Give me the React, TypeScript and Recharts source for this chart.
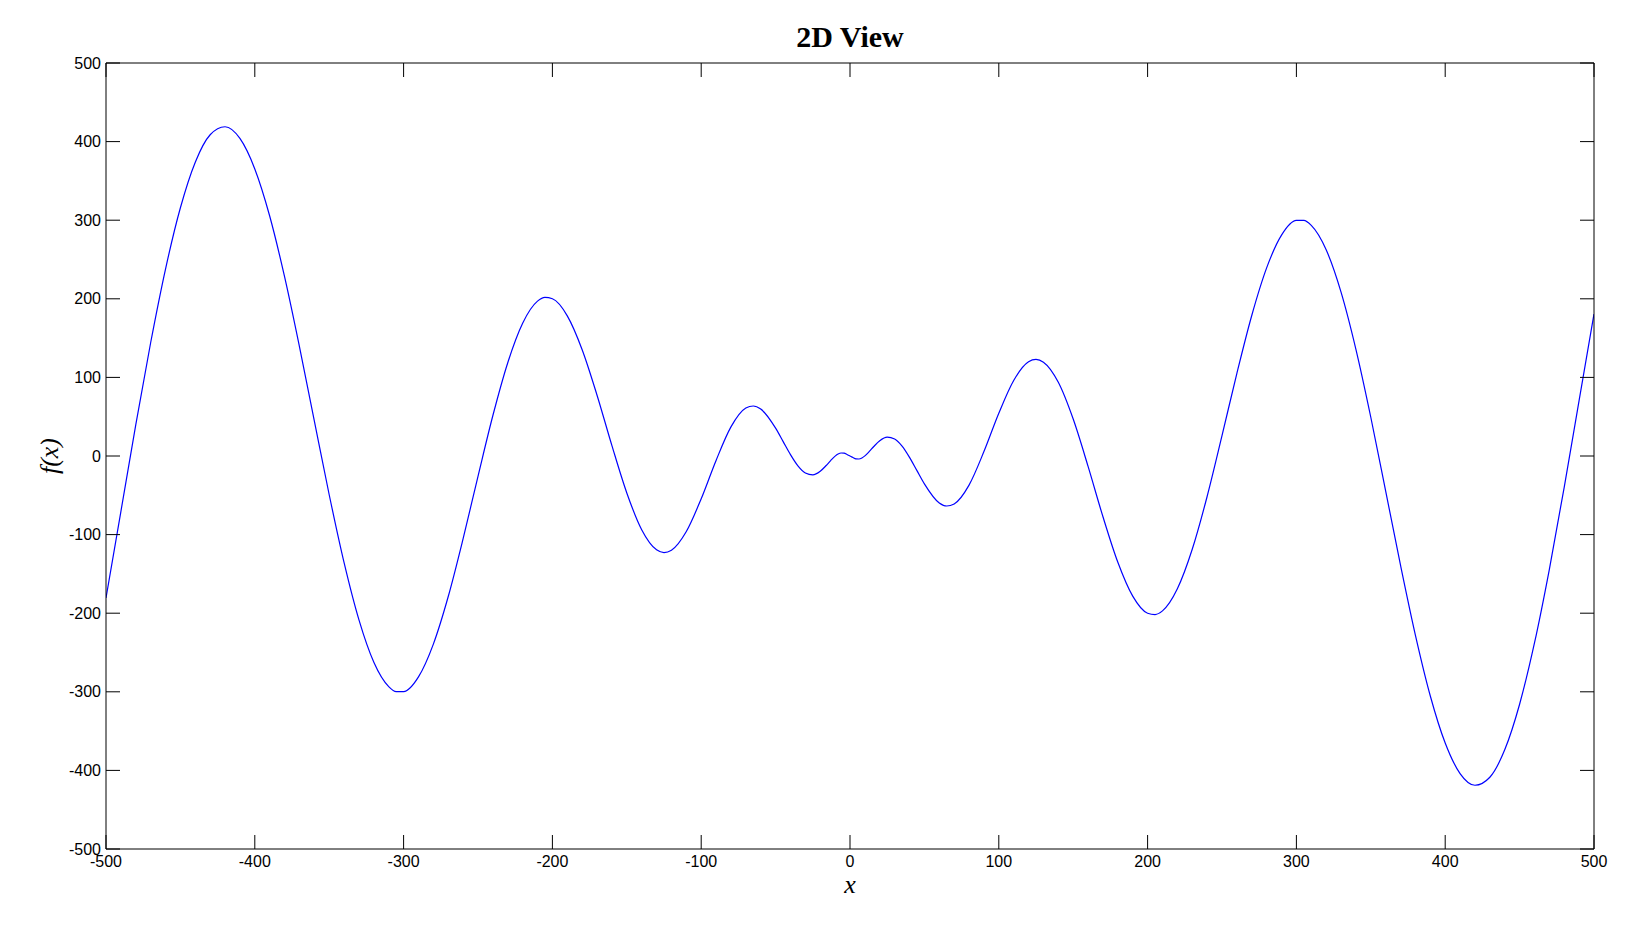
import { LineChart, Line, XAxis, YAxis } from 'recharts'

// x positions (denser near 0 where the wiggle is)
const xValues = [
  -500, -490, -480, -470, -460, -450, -440, -430, -420, -410,
  -400, -390, -380, -370, -360, -350, -340, -330, -320, -310,
  -305, -300, -290, -280, -270, -260, -250, -240, -230, -220,
  -210, -205, -200, -190, -180, -170, -160, -150, -140, -130,
  -125, -120, -110, -100, -90, -80, -70, -65, -60, -50,
  -45, -40, -35, -30, -25, -20, -16, -13, -10, -8,
  -6, -4, -2, 0, 2, 4, 6, 8, 10, 13,
  16, 20, 25, 30, 35, 40, 45, 50, 60, 65,
  70, 80, 90, 100, 110, 120, 125, 130, 140, 150,
  160, 170, 180, 190, 200, 205, 210, 220, 230, 240,
  250, 260, 270, 280, 290, 300, 305, 310, 320, 330,
  340, 350, 360, 370, 380, 390, 400, 410, 420, 430,
  440, 450, 460, 470, 480, 490, 500,
]

// f(x) values
const fValues = [
  -180.6, -70.7, 39.5, 144.1, 237.9, 315.8, 373.8, 408.7, 418.9, 404.0,
  365.2, 305.3, 228.1, 139.2, 44.6, -49.3, -135.7, -208.5, -262.4, -293.4,
  -299.8, -299.7, -281.0, -239.3, -178.8, -105.2, -25.8, 51.5, 118.7, 168.9,
  197.0, 201.7, 200.0, 178.3, 135.2, 77.3, 13.2, -47.0, -93.8, -119.4,
  -122.9, -119.9, -96.1, -54.4, -5.6, 37.0, 61.0, 63.6, 59.7, 35.4,
  18.6, 1.7, -12.6, -21.7, -24.0, -19.4, -12.1, -5.8, -0.2, 2.5,
  3.8, 3.6, 2.0, 0, -2.0, -3.6, -3.8, -2.5, 0.2, 5.8,
  12.1, 19.4, 24.0, 21.7, 12.6, -1.7, -18.6, -35.4, -59.7, -63.6,
  -61.0, -37.0, 5.6, 54.4, 96.1, 119.9, 122.9, 119.4, 93.8, 47.0,
  -13.2, -77.3, -135.2, -178.3, -200.0, -201.7, -197.0, -168.9, -118.7, -51.5,
  25.8, 105.2, 178.8, 239.3, 281.0, 299.7, 299.8, 293.4, 262.4, 208.5,
  135.7, 49.3, -44.6, -139.2, -228.1, -305.3, -365.2, -404.0, -418.9, -408.7,
  -373.8, -315.8, -237.9, -144.1, -39.5, 70.7, 180.6,
]

const xTicks = [-500, -400, -300, -200, -100, 0, 100, 200, 300, 400, 500]
const yTicks = [-500, -400, -300, -200, -100, 0, 100, 200, 300, 400, 500]

const data = xValues.map((x, i) => ({ x, y: fValues[i] }))

const tickFont = { fontFamily: 'Liberation Sans, Arial, sans-serif', fontSize: 16, fill: '#000' }
const serif = 'Liberation Serif, Times New Roman, serif'

// mirror axes keep their tick marks but show no labels
const NoLabel = () => <g />

export default function App() {
  return (
    <div style={{ position: 'relative', width: 1632, height: 945, background: '#fff' }}>
      <style>{`body{margin:0;overflow:hidden;}`}</style>
      <LineChart
        width={1632}
        height={945}
        data={data}
        margin={{ top: 62, right: 37, bottom: 66, left: 46 }}
      >
        <XAxis
          xAxisId="b"
          dataKey="x"
          type="number"
          domain={[-500, 500]}
          ticks={xTicks}
          height={30}
          stroke="#000"
          tickSize={-14}
          tickMargin={21}
          tick={tickFont}
          allowDataOverflow
        />
        <XAxis
          xAxisId="t"
          orientation="top"
          dataKey="x"
          type="number"
          domain={[-500, 500]}
          ticks={xTicks}
          height={1}
          stroke="#000"
          tickSize={-14}
          tick={NoLabel}
          allowDataOverflow
        />
        <YAxis
          yAxisId="l"
          type="number"
          domain={[-500, 500]}
          ticks={yTicks}
          width={60}
          stroke="#000"
          tickSize={-14}
          tickMargin={19}
          tick={tickFont}
          allowDataOverflow
        />
        <YAxis
          yAxisId="r"
          orientation="right"
          type="number"
          domain={[-500, 500]}
          ticks={yTicks}
          width={1}
          stroke="#000"
          tickSize={-14}
          tick={NoLabel}
          allowDataOverflow
        />
        <Line
          xAxisId="b"
          yAxisId="l"
          type="monotone"
          dataKey="y"
          stroke="#0000ff"
          strokeWidth={1.2}
          dot={false}
          isAnimationActive={false}
        />
        {/* invisible copy so the top/right frame axes have a series */}
        <Line
          xAxisId="t"
          yAxisId="r"
          type="monotone"
          dataKey="y"
          stroke="none"
          dot={false}
          activeDot={false}
          isAnimationActive={false}
        />
      </LineChart>
      <svg
        width={1632}
        height={945}
        style={{ position: 'absolute', left: 0, top: 0, pointerEvents: 'none' }}
      >
        <text x={850} y={47} textAnchor="middle" fontFamily={serif} fontWeight="bold" fontSize={30}>
          2D View
        </text>
        <text x={850} y={893} textAnchor="middle" fontFamily={serif} fontStyle="italic" fontSize={26}>
          x
        </text>
        <text
          x={58}
          y={456}
          textAnchor="middle"
          fontFamily={serif}
          fontStyle="italic"
          fontSize={26}
          transform="rotate(-90 58 456)"
        >
          f(x)
        </text>
      </svg>
    </div>
  )
}
